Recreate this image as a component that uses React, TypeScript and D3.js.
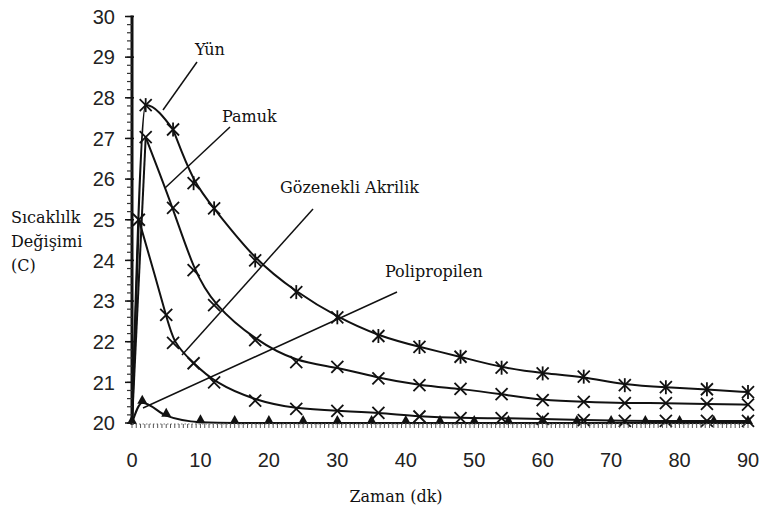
import React from "react";
import * as d3 from "d3";

const W = 766;
const H = 515;

const yunX = [2, 6, 9, 12, 18, 24, 30, 36, 42, 48, 54, 60, 66, 72, 78, 84, 90];
const yunY = [27.82, 27.22, 25.9, 25.28, 24.0, 23.22, 22.6, 22.14, 21.87, 21.63, 21.36, 21.22, 21.14, 20.93, 20.88, 20.83, 20.76];

const pamukX = [2, 6, 9, 12, 18, 24, 30, 36, 42, 48, 54, 60, 66, 72, 78, 84, 90];
const pamukY = [27.03, 25.29, 23.76, 22.9, 22.04, 21.5, 21.38, 21.1, 20.93, 20.84, 20.71, 20.56, 20.52, 20.49, 20.49, 20.47, 20.45];

const akrilikX = [1, 5, 6, 9, 12, 18, 24, 30, 36, 42, 48, 54, 60, 66, 72, 78, 84, 90];
const akrilikY = [25.0, 22.66, 21.97, 21.47, 21.0, 20.55, 20.35, 20.3, 20.25, 20.16, 20.12, 20.12, 20.1, 20.07, 20.05, 20.05, 20.05, 20.05];

const polyX = [0, 1.5, 5, 10, 15, 20, 25, 30, 35, 40, 45, 50, 55, 60, 65, 70, 75, 80, 85, 90];
const polyY = [20.0, 20.5, 20.18, 20.02, 20.0, 20.0, 20.0, 20.0, 20.0, 20.0, 20.0, 20.0, 20.0, 20.0, 20.0, 20.0, 20.0, 20.0, 20.0, 20.0];

const xTickValues = [0, 10, 20, 30, 40, 50, 60, 70, 80, 90];
const yTickValues = [20, 21, 22, 23, 24, 25, 26, 27, 28, 29, 30];

const yLabelLines = ["Sıcaklılk", "Değişimi", "(C)"];
const xTitle = "Zaman (dk)";
const annoNames = ["Yün", "Pamuk", "Gözenekli Akrilik", "Polipropilen"];

const x = d3.scaleLinear().domain([0, 90]).range([132, 748]);
const y = d3.scaleLinear().domain([20, 30]).range([423, 16.5]);

const serif = "'DejaVu Serif', 'Liberation Serif', serif";
const sans = "'Liberation Sans', Arial, sans-serif";

const smooth = d3
  .line<[number, number]>()
  .x((d) => x(d[0]))
  .y((d) => y(d[1]))
  .curve(d3.curveBasis);

const mono = d3
  .line<[number, number]>()
  .x((d) => x(d[0]))
  .y((d) => y(d[1]))
  .curve(d3.curveMonotoneX);

function zip(xs: number[], ys: number[]): [number, number][] {
  return xs.map((v, i) => [v, ys[i]]);
}

function Asterisk({ cx, cy }: { cx: number; cy: number }) {
  const r = 6;
  return (
    <g stroke="#111" strokeWidth={1.8}>
      <line x1={cx - r} y1={cy - r} x2={cx + r} y2={cy + r} />
      <line x1={cx - r} y1={cy + r} x2={cx + r} y2={cy - r} />
      <line x1={cx} y1={cy - r - 1} x2={cx} y2={cy + r + 1} />
    </g>
  );
}

function Cross({ cx, cy }: { cx: number; cy: number }) {
  const r = 6;
  return (
    <g stroke="#111" strokeWidth={1.8}>
      <line x1={cx - r} y1={cy - r} x2={cx + r} y2={cy + r} />
      <line x1={cx - r} y1={cy + r} x2={cx + r} y2={cy - r} />
    </g>
  );
}

function Tri({ cx, cy }: { cx: number; cy: number }) {
  return <path d={`M${cx},${cy - 8} L${cx + 5},${cy + 1} L${cx - 5},${cy + 1} Z`} fill="#111" />;
}

export default function App() {
  const yun = zip(yunX, yunY);
  const pamuk = zip(pamukX, pamukY);
  const akrilik = zip(akrilikX, akrilikY);
  const poly = zip(polyX, polyY);

  const yMinor = d3.range(20, 30.001, 0.2);
  const xMinor = d3.range(0, 90.001, 0.625);

  const origin: [number, number] = [0, 20];

  return (
    <svg
      width={W}
      height={H}
      style={{ position: "absolute", left: 0, top: 0, background: "#fff" }}
    >
      <rect width={W} height={H} fill="#fff" />

      {/* curves */}
      <g fill="none" stroke="#111" strokeWidth={2}>
        <path d={mono([origin, yun[0], yun[1]]) || ""} />
        <path d={smooth(yun.slice(1)) || ""} />
        <path d={mono([origin, pamuk[0]]) || ""} />
        <path d={smooth([pamuk[0], pamuk[0], ...pamuk.slice(1)]) || ""} />
        <path d={mono([origin, akrilik[0]]) || ""} />
        <path d={smooth([akrilik[0], akrilik[0], ...akrilik.slice(1)]) || ""} />
        <path d={mono(poly) || ""} />
      </g>

      {/* markers */}
      {yun.map((d, i) => (
        <Asterisk key={"y" + i} cx={x(d[0])} cy={y(d[1])} />
      ))}
      {pamuk.map((d, i) => (
        <Cross key={"p" + i} cx={x(d[0])} cy={y(d[1])} />
      ))}
      {akrilik.map((d, i) => (
        <Cross key={"a" + i} cx={x(d[0])} cy={y(d[1])} />
      ))}
      {poly.map((d, i) => (
        <Tri key={"t" + i} cx={x(d[0])} cy={y(d[1])} />
      ))}

      {/* y axis */}
      <line x1={x(0)} y1={y(30) - 1} x2={x(0)} y2={y(20) + 2} stroke="#111" strokeWidth={3} />
      {yMinor.map((v, i) => (
        <line key={"ym" + i} x1={x(0) - 5} x2={x(0)} y1={y(v)} y2={y(v)} stroke="#333" strokeWidth={1.2} />
      ))}
      {yTickValues.map((v) => (
        <g key={"yt" + v}>
          <line x1={x(0) - 7} x2={x(0) + 2} y1={y(v)} y2={y(v)} stroke="#111" strokeWidth={1.5} />
          <text
            x={115}
            y={y(v)}
            dy="0.36em"
            textAnchor="end"
            fontFamily={sans}
            fontSize={20}
            fill="#222"
          >
            {v}
          </text>
        </g>
      ))}

      {/* x axis */}
      <line x1={x(0)} x2={x(90)} y1={y(20) + 1} y2={y(20) + 1} stroke="#777" strokeWidth={1} strokeDasharray="1.5,2" />
      {xMinor.map((v, i) => (
        <line key={"xm" + i} x1={x(v)} x2={x(v)} y1={y(20) + 1} y2={y(20) + 5} stroke="#555" strokeWidth={1} />
      ))}
      {xTickValues.map((v) => (
        <text
          key={"xt" + v}
          x={x(v)}
          y={467}
          textAnchor="middle"
          fontFamily={sans}
          fontSize={20}
          fill="#222"
        >
          {v}
        </text>
      ))}

      {/* axis titles */}
      <text x={396} y={502} textAnchor="middle" fontFamily={serif} fontSize={16} fill="#111">
        {xTitle}
      </text>
      {yLabelLines.map((t, i) => (
        <text key={"yl" + i} x={11} y={223 + i * 24} fontFamily={serif} fontSize={16} fill="#111">
          {t}
        </text>
      ))}

      {/* annotations */}
      <g stroke="#111" strokeWidth={1.5}>
        <line x1={197} y1={62} x2={163} y2={110} />
        <line x1={230} y1={127} x2={165} y2={188} />
        <line x1={313} y1={209} x2={182} y2={355} />
        <line x1={397} y1={292} x2={143} y2={408} />
      </g>
      <g fontFamily={serif} fontSize={16} fill="#111">
        <text x={195} y={55}>{annoNames[0]}</text>
        <text x={222} y={122}>{annoNames[1]}</text>
        <text x={280} y={193}>{annoNames[2]}</text>
        <text x={385} y={277}>{annoNames[3]}</text>
      </g>
    </svg>
  );
}
